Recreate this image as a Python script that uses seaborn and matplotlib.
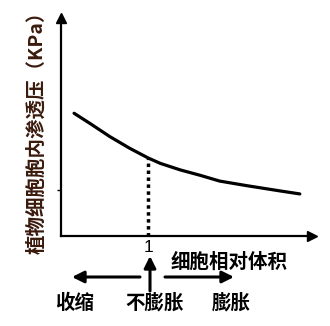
import matplotlib
matplotlib.use("Agg")
import matplotlib.pyplot as plt
import seaborn as sns
import pandas as pd

# data
rel_volume = [0.15, 0.33, 0.56, 0.79, 1.0, 1.14, 1.37, 1.6, 1.82, 2.13, 2.51, 2.74]
osmotic_pressure = [5.63, 5.17, 4.56, 4.02, 3.58, 3.33, 3.03, 2.78, 2.52, 2.31, 2.07, 1.93]
x_tick_values = [1.0]
x_tick_labels = ["1"]
y_tick_values = [2.1]
y_label = "植物细胞胞内渗透压（KPa）"
x_label = "细胞相对体积"
state_labels = ["收缩", "不膨胀", "膨胀"]

sns.set_theme(style="white")
plt.rcParams['font.family'] = ['Noto Sans CJK SC', 'DejaVu Sans']

W, H = 330, 326
fig = plt.figure(figsize=(W / 100, H / 100), dpi=100)

def fx(px):
    return px / W

def fy(py):
    return 1 - py / H

ax = fig.add_axes([fx(61), fy(236), fx(312) - fx(61), fy(18) - fy(236)])
df = pd.DataFrame({"v": rel_volume, "p": osmotic_pressure})
sns.lineplot(data=df, x="v", y="p", ax=ax, color="black", linewidth=2.3)
ax.set_xlim(0, 2.88)
ax.set_ylim(0, 10)

# dotted vertical at x=1
p_at_1 = osmotic_pressure[rel_volume.index(1.0)]
ax.plot([1.0, 1.0], [0, p_at_1], color="black", linewidth=2.5,
        linestyle=(0, (1, 1)))

for s in ["top", "right"]:
    ax.spines[s].set_visible(False)
for s in ["left", "bottom"]:
    ax.spines[s].set_color("black")
    ax.spines[s].set_linewidth(1.6)

ax.plot(1, 0, marker=">", color="black", markersize=7, transform=ax.transAxes,
        clip_on=False)
ax.plot(0, 1, marker="^", color="black", markersize=7, transform=ax.transAxes,
        clip_on=False)

ax.set_xticks(x_tick_values)
ax.set_xticklabels(x_tick_labels, fontsize=12.5,
                   family=['Liberation Sans', 'DejaVu Sans'])
ax.set_yticks(y_tick_values)
ax.set_yticklabels([""])
ax.tick_params(axis="x", length=0, pad=3, colors="black")
ax.tick_params(axis="y", length=3, width=1, left=True, colors="black")
ax.set_xlabel("")
ax.set_ylabel("")

# y label
fig.text(fx(37), fy(128), y_label, rotation=90, ha="center", va="center",
         fontsize=14.0, fontweight="bold", color="#3a1a0c")

# x label
fig.text(fx(229), fy(262), x_label, ha="center", va="center",
         fontsize=14, fontweight="bold", color="black")

# arrows under the axis
arrow_kw = dict(arrowstyle="-|>,head_length=0.5,head_width=0.25", color="black",
                lw=2.2, shrinkA=0, shrinkB=0)
fig.add_artist(matplotlib.patches.FancyArrowPatch(
    (fx(140), fy(277)), (fx(72), fy(277)), transform=fig.transFigure,
    mutation_scale=14, **arrow_kw))
fig.add_artist(matplotlib.patches.FancyArrowPatch(
    (fx(165), fy(277)), (fx(234), fy(277)), transform=fig.transFigure,
    mutation_scale=14, **arrow_kw))
fig.add_artist(matplotlib.patches.FancyArrowPatch(
    (fx(150), fy(291)), (fx(150), fy(256)), transform=fig.transFigure,
    mutation_scale=14, **arrow_kw))

# state labels
for lab, px in zip(state_labels, [75, 155, 231]):
    fig.text(fx(px), fy(303), lab, ha="center", va="center",
             fontsize=14, fontweight="bold", color="black")

fig.savefig("out.png", dpi=100, facecolor="white")
